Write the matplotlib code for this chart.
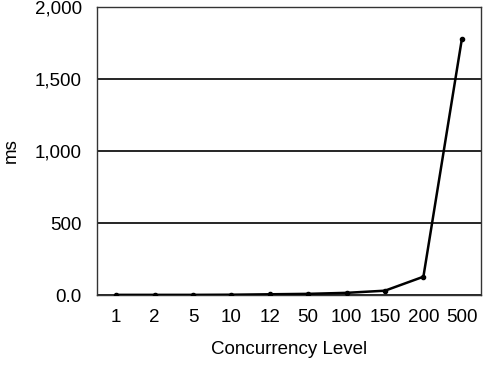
import matplotlib
matplotlib.use("Agg")
import matplotlib.pyplot as plt
from matplotlib.ticker import FuncFormatter

plt.rcParams['font.family'] = ['Liberation Sans', 'DejaVu Sans']

# concurrency levels and response time (ms)
levels = ["1", "2", "5", "10", "12", "50", "100", "150", "200", "500"]
ms = [1, 1, 1, 2, 5, 8, 15, 30, 127, 1775]

fig = plt.figure(figsize=(5.04, 3.66), dpi=100)
ax = fig.add_axes([97/504, 1 - 295/366, 384/504, 288/366])

x = list(range(len(levels)))
ax.plot(x, ms, color='black', lw=1.8, marker='o', ms=3, zorder=3)

ax.set_xlim(-0.5, len(levels) - 0.5)
ax.set_ylim(0, 2000)
ax.set_yticks([0, 500, 1000, 1500, 2000])
ax.yaxis.set_major_formatter(FuncFormatter(lambda v, p: "0.0" if v == 0 else f"{int(v):,}"))
ax.set_xticks(x)
ax.set_xticklabels(levels)
ax.tick_params(length=0, labelsize=13.5, colors='black')
ax.tick_params(axis='x', pad=10)
ax.tick_params(axis='y', pad=11)

ax.grid(axis='y', color='black', lw=1.2)
ax.set_axisbelow(True)
for s in ax.spines.values():
    s.set_color('#333333')
    s.set_linewidth(1)

ax.set_xlabel("Concurrency Level", fontsize=13.5, labelpad=11)
ax.set_ylabel("ms", fontsize=13.5, labelpad=11)

fig.savefig("out.png", dpi=100)
